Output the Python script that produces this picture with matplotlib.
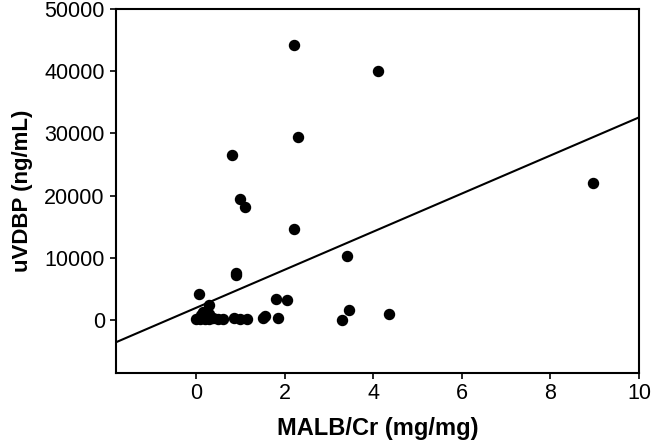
import matplotlib
matplotlib.use("Agg")
import matplotlib.pyplot as plt
import numpy as np

# MALB/Cr (mg/mg) vs uVDBP (ng/mL)
malb_cr = [2.2, 4.1, 2.3, 0.8, 1.0, 1.1, 2.2, 3.4, 0.9, 0.9, 0.07, 0.3, 1.8, 2.05,
           8.95, 3.45, 3.3, 4.35,
           0.0, 0.08, 0.2, 0.3, 0.38, 0.5, 0.6, 0.85, 1.0, 1.15, 1.5, 1.55, 1.85,
           0.15, 0.3, 0.12, 0.22]
uvdbp = [44200, 40000, 29500, 26600, 19500, 18100, 14700, 10300, 7600, 7200, 4200, 2500, 3400, 3300,
         22100, 1600, 50, 950,
         100, 150, 200, 100, 300, 150, 100, 300, 200, 150, 400, 600, 400,
         1300, 1000, 800, 500]

# regression line coefficients
fit_slope = 3060
fit_intercept = 1980

x_ticks = [0, 2, 4, 6, 8, 10]
y_ticks = [0, 10000, 20000, 30000, 40000, 50000]

plt.rcParams["font.family"] = ["Liberation Sans", "DejaVu Sans"]

fig = plt.figure(figsize=(6.53, 4.43), dpi=100)
ax = fig.add_axes([0.1776, 0.158, 0.801, 0.8217])

ax.scatter(malb_cr, uvdbp, s=52, color="black", zorder=3)

xmin, xmax = -1.81, 10
xl = np.array([xmin, xmax])
ax.plot(xl, fit_slope * xl + fit_intercept, color="black", lw=1.5)

ax.set_xlim(xmin, xmax)
ax.set_ylim(-8500, 50000)
ax.set_xticks(x_ticks)
ax.set_yticks(y_ticks)
ax.tick_params(direction="out", length=4.5, width=1.2, labelsize=15.5, colors="black")
ax.tick_params(axis="x", pad=3)
for sp in ax.spines.values():
    sp.set_linewidth(1.5)

ax.set_xlabel("MALB/Cr (mg/mg)", fontsize=17, fontweight="bold", labelpad=9)
ax.set_ylabel("uVDBP (ng/mL)", fontsize=16, fontweight="bold", labelpad=8)

fig.savefig("out.png", dpi=100)
